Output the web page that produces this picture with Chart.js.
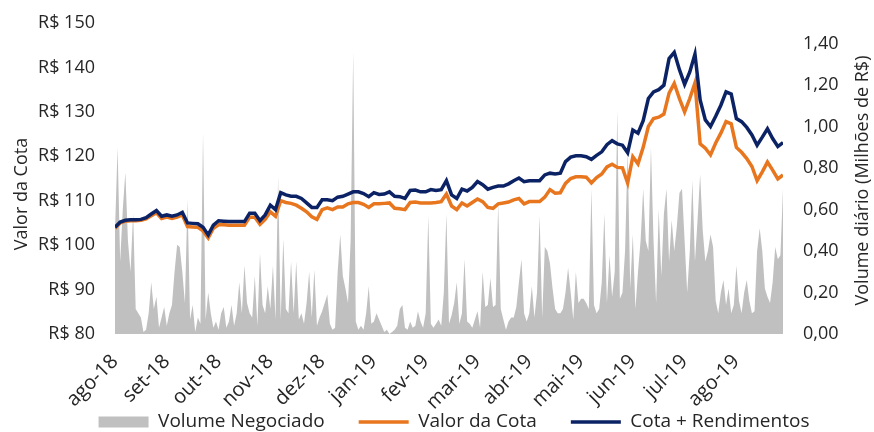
<!DOCTYPE html>
<html>
<head>
<meta charset="utf-8">
<script src="https://cdn.jsdelivr.net/npm/chart.js@4.4.1/dist/chart.umd.min.js"></script>
<style>
  html, body { margin: 0; padding: 0; background: #ffffff; }
  #wrap { width: 874px; height: 432px; }
</style>
</head>
<body>
<div id="wrap"><canvas id="c" width="874" height="432"></canvas></div>
<script>
// Month tick labels (one per month, starting ago-18)
const months = ['ago-18','set-18','out-18','nov-18','dez-18','jan-19','fev-19','mar-19','abr-19','mai-19','jun-19','jul-19','ago-19'];

// Cota + Rendimentos (R$), sampled every 0.1 month from ago-18
const cotaRend = [
104.0,105.2,105.6,105.7,105.7,105.8,106.2,107.0,107.8,106.5,
106.8,106.5,106.8,107.4,105.0,104.9,104.8,104.0,102.3,104.5,
105.5,105.4,105.3,105.3,105.3,105.3,107.2,107.2,105.5,106.8,
109.0,108.0,111.8,111.3,111.0,111.0,110.5,109.5,108.5,108.5,
110.2,110.2,110.0,110.8,111.0,111.5,112.0,112.0,111.6,110.9,
111.8,111.4,111.5,112.0,111.0,110.9,110.5,112.3,112.4,112.0,
112.0,112.5,112.3,112.5,114.5,111.3,110.5,112.6,112.2,113.0,
114.3,113.6,112.6,113.0,113.3,113.3,113.8,114.5,115.1,114.3,
114.5,114.5,114.5,115.8,116.2,116.0,116.2,118.8,119.8,120.1,
120.1,119.9,119.3,120.2,121.0,122.6,123.5,122.8,122.5,120.8,
125.9,125.2,128.0,133.0,134.5,135.0,136.0,142.0,143.4,139.5,
136.2,139.0,143.0,132.7,128.2,126.7,129.0,131.5,134.5,134.0,
128.5,127.8,126.5,124.8,122.5,124.3,126.2,124.0,122.2,123.1
];

// Valor da Cota (R$), same sampling
const valorCota = [
103.8,105.0,105.4,105.5,105.5,105.6,105.9,106.6,107.3,106.0,
106.3,106.0,106.3,106.8,104.2,104.1,104.0,103.2,101.6,103.8,
104.6,104.6,104.5,104.5,104.5,104.5,106.3,106.3,104.7,105.8,
107.5,106.5,110.0,109.6,109.4,109.0,108.3,107.5,106.4,105.8,
108.0,108.4,108.0,108.6,108.6,109.3,109.6,109.6,109.2,108.5,
109.3,109.3,109.4,109.5,108.3,108.2,108.0,109.6,109.7,109.5,
109.5,109.5,109.6,109.8,111.5,108.8,108.0,109.5,108.8,109.6,
110.4,109.8,108.5,108.3,109.3,109.5,109.7,110.2,110.5,109.3,
109.8,109.8,109.8,110.8,112.5,111.7,111.8,113.9,115.0,115.4,
115.4,115.3,114.0,115.2,116.0,117.6,118.2,117.5,117.4,114.0,
119.9,118.3,122.0,126.7,128.5,128.8,129.5,134.2,136.4,133.0,
130.0,133.0,136.5,122.8,121.8,120.3,123.0,125.2,127.8,127.3,
122.0,120.9,119.5,117.7,114.5,116.5,118.7,116.9,114.9,115.8
];

// Volume diário (Milhões de R$), sampled every 0.05 month
const volume = [
0.50,0.90,0.35,0.60,0.78,0.45,0.30,0.58,0.12,0.10,
0.08,0.01,0.02,0.10,0.25,0.12,0.18,0.03,0.08,0.13,
0.04,0.10,0.14,0.30,0.43,0.42,0.30,0.15,0.65,0.07,
0.14,0.01,0.08,0.05,0.97,0.07,0.20,0.10,0.03,0.06,
0.02,0.10,0.13,0.03,0.06,0.14,0.04,0.10,0.25,0.10,
0.33,0.15,0.10,0.08,0.28,0.04,0.39,0.14,0.10,0.23,
0.12,0.33,0.07,0.76,0.07,0.46,0.12,0.10,0.35,0.10,
0.35,0.07,0.10,0.05,0.15,0.30,0.08,0.31,0.04,0.08,
0.11,0.15,0.19,0.05,0.02,0.03,0.30,0.48,0.28,0.22,
0.15,0.45,1.36,0.06,0.02,0.04,0.02,0.10,0.23,0.05,
0.06,0.10,0.07,0.04,0.01,0.02,0.00,0.01,0.02,0.04,
0.12,0.14,0.03,0.02,0.06,0.03,0.04,0.11,0.06,0.03,
0.10,0.57,0.05,0.03,0.05,0.07,0.04,0.20,0.58,0.05,
0.09,0.15,0.25,0.05,0.10,0.36,0.06,0.05,0.03,0.07,
0.11,0.03,0.30,0.13,0.14,0.27,0.13,0.14,0.63,0.12,
0.07,0.02,0.06,0.08,0.08,0.13,0.25,0.36,0.10,0.06,
0.10,0.23,0.08,0.20,0.57,0.08,0.42,0.40,0.34,0.22,
0.12,0.10,0.10,0.12,0.20,0.32,0.20,0.07,0.30,0.15,
0.17,0.17,0.15,0.12,0.70,0.14,0.10,0.12,0.25,0.58,
0.15,0.38,0.18,0.30,1.08,0.17,0.20,0.40,0.89,0.22,
0.48,0.12,0.30,0.45,0.70,0.45,0.40,0.90,0.45,0.15,
0.60,0.28,0.58,0.70,0.35,0.55,0.40,0.52,0.68,0.70,
0.45,0.20,0.40,0.74,0.35,0.55,0.77,0.50,0.35,0.40,
0.48,0.42,0.16,0.10,0.20,0.26,0.14,0.22,0.10,0.14,
0.33,0.16,0.10,0.20,0.26,0.16,0.10,0.11,0.40,0.51,
0.40,0.22,0.18,0.15,0.25,0.42,0.36,0.38,0.70
];

const LINE_STEP = 0.1;   // months per line sample
const VOL_STEP = 0.05;   // months per volume sample

const ORANGE = '#E8761E';
const NAVY = '#0B2265';
const GREY = '#C0C0C0';
const TEXT = '#262626';
const FONT = '"Open Sans", "Noto Sans", sans-serif';

const toPts = (arr, step) => arr.map((v, i) => ({ x: +(i * step).toFixed(3), y: v }));

const axisTitles = {
  id: 'axisTitles',
  afterDraw(chart) {
    const { ctx, chartArea } = chart;
    ctx.save();
    ctx.font = '18px ' + FONT;
    ctx.fillStyle = TEXT;
    ctx.textAlign = 'center';
    ctx.textBaseline = 'middle';
    ctx.save();
    ctx.translate(22, 194);
    ctx.rotate(-Math.PI / 2);
    ctx.fillText('Valor da Cota', 0, 0);
    ctx.restore();
    ctx.save();
    ctx.translate(863, (chartArea.top + chartArea.bottom) / 2 + 2);
    ctx.rotate(-Math.PI / 2);
    ctx.fillText('Volume diário (Milhões de R$)', 0, 0);
    ctx.restore();
    ctx.restore();
  }
};

new Chart(document.getElementById('c'), {
  data: {
    datasets: [
      {
        type: 'line', label: 'Volume Negociado', data: toPts(volume, VOL_STEP), yAxisID: 'y1',
        fill: 'origin', backgroundColor: GREY, borderColor: GREY, borderWidth: 0,
        pointRadius: 0, tension: 0, order: 3, pointStyle: 'rect'
      },
      {
        type: 'line', label: 'Valor da Cota', data: toPts(valorCota, LINE_STEP), yAxisID: 'y',
        borderColor: ORANGE, backgroundColor: ORANGE, borderWidth: 3.5, fill: false,
        pointRadius: 0, tension: 0, order: 2, pointStyle: 'line'
      },
      {
        type: 'line', label: 'Cota + Rendimentos', data: toPts(cotaRend, LINE_STEP), yAxisID: 'y',
        borderColor: NAVY, backgroundColor: NAVY, borderWidth: 3.5, fill: false,
        pointRadius: 0, tension: 0, order: 1, pointStyle: 'line'
      }
    ]
  },
  options: {
    responsive: false,
    animation: false,
    events: [],
    layout: { padding: { top: 23, right: 0, bottom: -9.5, left: 34 } },
    plugins: {
      tooltip: { enabled: false },
      legend: {
        position: 'bottom',
        fullSize: true,
        labels: {
          usePointStyle: true,
          pointStyleWidth: 50,
          boxHeight: 11,
          padding: 34,
          color: TEXT,
          font: { family: FONT, size: 19 },
          sort: (a, b) => a.datasetIndex - b.datasetIndex
        }
      }
    },
    scales: {
      x: {
        type: 'linear', min: 0, max: 12.9,
        grid: { display: false, drawTicks: false },
        border: { display: false },
        afterBuildTicks(s) { s.ticks = months.map((m, k) => ({ value: k })); },
        afterFit(s) {
          s.height = 44.5;
          // let the rotated month labels extend below the axis box
          s._computeLabelArea = () => null;
        },
        ticks: {
          autoSkip: false, maxRotation: 45, minRotation: 45, includeBounds: false,
          padding: 16, color: TEXT, font: { family: FONT, size: 20 },
          callback: (v) => months[Math.round(v)] || ''
        }
      },
      y: {
        position: 'left', min: 80, max: 150,
        grid: { display: false, drawTicks: false },
        border: { display: false },
        afterFit(s) { s.width = 81; s.paddingTop = 0; s.paddingBottom = 0; },
        ticks: {
          stepSize: 10, padding: 20, color: TEXT, font: { family: FONT, size: 18 },
          callback: (v) => 'R$ ' + v
        }
      },
      y1: {
        position: 'right', min: 0, max: 1.5,
        grid: { display: false, drawTicks: false },
        border: { display: false },
        afterFit(s) { s.width = 91; s.paddingTop = 0; s.paddingBottom = 0; },
        afterBuildTicks(s) { s.ticks = s.ticks.filter(t => t.value <= 1.4001); },
        ticks: {
          stepSize: 0.2, includeBounds: false, padding: 20, color: TEXT, font: { family: FONT, size: 18 },
          callback: (v) => v.toFixed(2).replace('.', ',')
        }
      }
    }
  },
  plugins: [axisTitles]
});
</script>
</body>
</html>
